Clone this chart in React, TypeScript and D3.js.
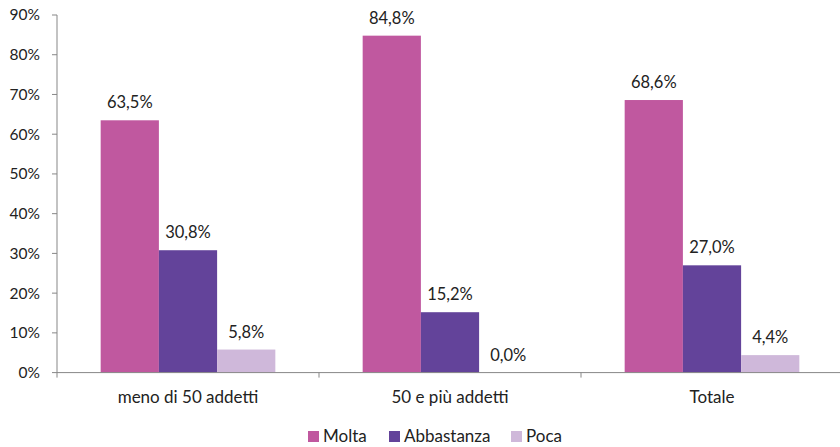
import React from "react";
import * as d3 from "d3";

const categories = ["meno di 50 addetti", "50 e più addetti", "Totale"];
const seriesNames = ["Molta", "Abbastanza", "Poca"];
const molta = [63.5, 84.8, 68.6];
const abbastanza = [30.8, 15.2, 27.0];
const poca = [5.8, 0.0, 4.4];
const yTicks = [0, 10, 20, 30, 40, 50, 60, 70, 80, 90];
const colors = ["#C0589F", "#63439A", "#CFB8DA"];

const W = 840;
const H = 447;
const FONT = "Lato, 'Open Sans', sans-serif";

export default function App() {
  const series = [molta, abbastanza, poca];
  const left = 57;
  const bandW = 262;
  const x = d3
    .scaleBand<string>()
    .domain(categories)
    .range([left, left + bandW * categories.length])
    .paddingInner(0)
    .paddingOuter(0);
  const y = d3.scaleLinear().domain([0, 90]).range([372.6, 15]);
  const groupW = bandW / 4.5 * 3;
  const inner = d3
    .scaleBand<string>()
    .domain(seriesNames)
    .range([0, groupW]);
  const fmt = (v: number) => v.toFixed(1).replace(".", ",") + "%";
  const axisColor = "#878787";

  return (
    <svg
      width={W}
      height={H}
      style={{ position: "absolute", left: 0, top: 0, fontFamily: FONT }}
    >
      <rect width={W} height={H} fill="#fff" />
      {/* y axis */}
      <line x1={left} x2={left} y1={y(90)} y2={y(0)} stroke={axisColor} strokeWidth={1} />
      {yTicks.map((t) => (
        <g key={t}>
          <line x1={left - 5} x2={left} y1={y(t)} y2={y(t)} stroke={axisColor} />
          <text
            x={40}
            y={y(t)}
            dy="0.35em"
            textAnchor="end"
            fontSize={15.5}
            fill="#222"
          >
            {t}%
          </text>
        </g>
      ))}
      {/* bars */}
      {categories.map((c, ci) => {
        const gx = (x(c) as number) + (bandW - groupW) / 2;
        return (
          <g key={c}>
            {series.map((s, si) => {
              const bx = gx + (inner(seriesNames[si]) as number);
              const bw = inner.bandwidth();
              const v = s[ci];
              return (
                <g key={si}>
                  <rect
                    x={bx}
                    y={y(v)}
                    width={bw}
                    height={y(0) - y(v)}
                    fill={colors[si]}
                  />
                  <text
                    x={bx + bw / 2}
                    y={y(v) - 12}
                    textAnchor="middle"
                    fontSize={16.5}
                    fill="#222"
                  >
                    {fmt(v)}
                  </text>
                </g>
              );
            })}
          </g>
        );
      })}
      {/* x axis */}
      <line x1={left} x2={W} y1={y(0)} y2={y(0)} stroke={axisColor} />
      {categories.map((c, i) => (
        <g key={c}>
          {i > 0 && (
            <line
              x1={x(c) as number}
              x2={x(c) as number}
              y1={y(0)}
              y2={y(0) + 5}
              stroke={axisColor}
            />
          )}
          <text
            x={(x(c) as number) + bandW / 2}
            y={403}
            textAnchor="middle"
            fontSize={17}
            fill="#222"
          >
            {c}
          </text>
        </g>
      ))}
      <line x1={left} x2={left} y1={y(0)} y2={y(0) + 5} stroke={axisColor} />
      {/* legend */}
      {seriesNames.map((n, i) => {
        const lx = [308, 389, 511][i];
        return (
          <g key={n}>
            <rect x={lx} y={431} width={11} height={11} fill={colors[i]} />
            <text x={lx + 15} y={442} fontSize={17} fill="#222">
              {n}
            </text>
          </g>
        );
      })}
    </svg>
  );
}
